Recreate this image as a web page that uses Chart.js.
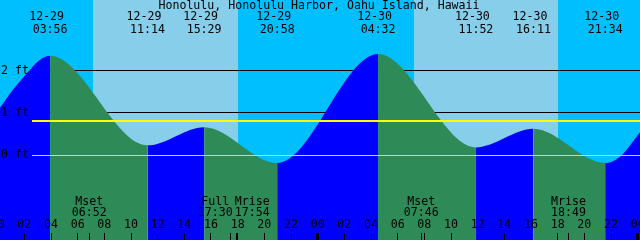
<!DOCTYPE html>
<html>
<head>
<meta charset="utf-8">
<style>
  html, body { margin: 0; padding: 0; background: #00bfff; }
  #wrap { width: 640px; height: 240px; }
</style>
<script src="https://cdn.jsdelivr.net/npm/chart.js@4.4.1/dist/chart.umd.min.js"></script>
</head>
<body>
<div id="wrap"><canvas id="tideChart" width="640" height="240"></canvas></div>
<script>
const title = 'Honolulu, Honolulu Harbor, Oahu Island, Hawaii';

// tide height in feet (highs/lows plus a few edge points)
const tideTimes = ['12-29 00:09', '12-29 01:30', '12-29 03:56', '12-29 11:14', '12-29 15:29', '12-29 20:58',
                   '12-30 04:32', '12-30 11:52', '12-30 16:11', '12-30 21:34', '12-30 22:40', '12-31 00:12'];
const tideFeet = [1.11, 1.68, 2.35, 0.23, 0.66, -0.19, 2.39, 0.18, 0.62, -0.19, -0.04, 0.55];

// highs and lows labelled along the top
const extremeTimes = ['12-29 03:56', '12-29 11:14', '12-29 15:29', '12-29 20:58',
                      '12-30 04:32', '12-30 11:52', '12-30 16:11', '12-30 21:34'];

const sunrise = ['12-29 07:09', '12-30 07:12'];
const sunset = ['12-29 18:00', '12-30 18:01'];

const moonLabels = ['Mset', 'Full', 'Mrise', 'Mset', 'Mrise'];
const moonTimes = ['12-29 06:52', '12-29 17:30', '12-29 17:54', '12-30 07:46', '12-30 18:49'];

const hourLabels = ['00', '02', '04', '06', '08', '10', '12', '14', '16', '18', '20', '22'];
const feetLabels = [2, 1, 0];
const meanLevel = 0.82;

const NIGHT = '#00bfff', DAY = '#87ceeb';
const RISE = '#0000ff', FALL = '#2e8b57';
const FONT = '11.6px "DejaVu Sans Mono", monospace';

function toHours(s) {
  const [d, t] = s.split(' ');
  const day = Number(d.split('-')[1]) - 29;
  const [hh, mm] = t.split(':').map(Number);
  return day * 24 + hh + mm / 60;
}

const tidePlugin = {
  id: 'tide',
  beforeDatasetsDraw(chart) {
    const ctx = chart.ctx, a = chart.chartArea;
    const x = chart.scales.x, y = chart.scales.y;
    ctx.save();
    ctx.fillStyle = NIGHT;
    ctx.fillRect(a.left, a.top, a.right - a.left, a.bottom - a.top);
    ctx.fillStyle = DAY;
    sunrise.forEach((s, i) => {
      const x0 = Math.round(x.getPixelForValue(toHours(s)));
      const x1 = Math.round(x.getPixelForValue(toHours(sunset[i])));
      ctx.fillRect(x0, a.top, x1 - x0, a.bottom - a.top);
    });
    // foot lines sit behind the water
    ctx.fillStyle = '#000';
    feetLabels.filter(f => f !== 0).forEach(f => {
      ctx.fillRect(32, Math.floor(y.getPixelForValue(f)), a.right - 32, 1);
    });
    ctx.restore();
  },
  afterDatasetsDraw(chart) {
    const ctx = chart.ctx, a = chart.chartArea;
    const x = chart.scales.x, y = chart.scales.y;
    ctx.save();
    ctx.fillStyle = '#ffff00';
    ctx.fillRect(32, Math.floor(y.getPixelForValue(meanLevel)), a.right - 32, 2);
    ctx.fillStyle = '#a8d8f8';
    ctx.fillRect(32, Math.floor(y.getPixelForValue(0)), a.right - 32, 1);

    ctx.font = FONT;
    ctx.fillStyle = '#000';
    ctx.textBaseline = 'middle';

    ctx.textAlign = 'left';
    feetLabels.forEach(f => ctx.fillText(f + ' ft', 1, y.getPixelForValue(f)));

    ctx.textAlign = 'center';
    ctx.fillText(title, 319, 5.5);
    extremeTimes.forEach(s => {
      const px = x.getPixelForValue(toHours(s));
      const [d, t] = s.split(' ');
      ctx.fillText(d, px - 3.5, 17.2);
      ctx.fillText(t, px, 29.7);
    });

    // moon events: push crowded labels apart
    const centers = moonTimes.map(s => x.getPixelForValue(toHours(s)));
    const pos = centers.slice();
    for (let i = 0; i + 1 < pos.length; i++) {
      if (pos[i + 1] - pos[i] < 37) {
        const mid = (pos[i] + pos[i + 1]) / 2;
        pos[i] = mid - 18.5;
        pos[i + 1] = mid + 18.5;
      }
    }
    moonTimes.forEach((s, i) => {
      ctx.fillText(moonLabels[i], pos[i], 201.5);
      ctx.fillText(s.split(' ')[1], pos[i], 213.3);
    });

    // hour ticks and labels
    ['12-29', '12-30', '12-31'].forEach(d => {
      hourLabels.forEach(h => {
        const px = x.getPixelForValue(toHours(d + ' ' + h + ':00'));
        if (px < -20 || px > a.right + 20) return;
        ctx.fillText(h, px, 225.2);
        const w = h === '00' ? 3 : 1;
        ctx.fillRect(Math.round(px - w / 2), 233, w, 7);
      });
    });
    centers.forEach(px => ctx.fillRect(Math.round(px - 0.5), 233, 1, 7));
    ctx.restore();
  }
};

new Chart(document.getElementById('tideChart').getContext('2d'), {
  type: 'line',
  data: {
    datasets: [{
      data: tideTimes.map((t, i) => ({ x: toHours(t), y: tideFeet[i] })),
      fill: 'start',
      backgroundColor: RISE,
      borderWidth: 0,
      borderColor: 'rgba(0,0,0,0)',
      pointRadius: 0,
      cubicInterpolationMode: 'monotone',
      segment: {
        backgroundColor: c => c.p1.parsed.y >= c.p0.parsed.y ? RISE : FALL
      }
    }]
  },
  options: {
    responsive: false,
    animation: false,
    devicePixelRatio: 1,
    events: [],
    layout: { padding: 0 },
    plugins: { legend: { display: false }, tooltip: { enabled: false } },
    scales: {
      x: { type: 'linear', min: 0.175, max: 48.175, display: false },
      y: { min: -2.01, max: 3.67, display: false }
    }
  },
  plugins: [tidePlugin]
});
</script>
</body>
</html>
